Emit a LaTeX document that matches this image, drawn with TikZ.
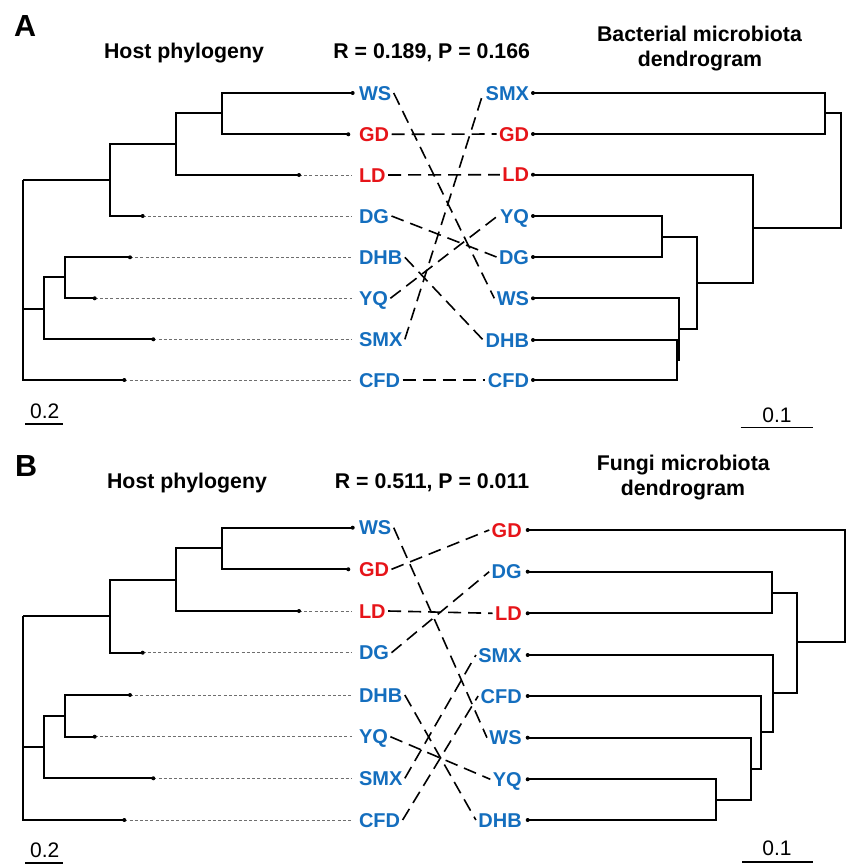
\documentclass[tikz,border=0pt]{standalone}
\usepackage{fontspec}
\setmainfont{Liberation Sans}
\definecolor{lblue}{RGB}{20,110,190}
\definecolor{lred}{RGB}{230,20,25}
\definecolor{leadgray}{RGB}{110,110,110}
\newcommand\mylabfont{\bfseries\fontsize{20}{24}\selectfont}
\newcommand\mytitfont{\bfseries\fontsize{21.3}{25}\selectfont}
\newcommand\mypanfont{\bfseries\fontsize{30.5}{34}\selectfont}
\newcommand\myscalefont{\fontsize{21}{24}\selectfont}
\begin{document}
\begin{tikzpicture}[x=1pt,y=-1pt,
  tree/.style={line width=1.8pt, black},
  leader/.style={line width=0.9pt, leadgray, dash pattern=on 3pt off 2.2pt},
  link/.style={line width=1.6pt, black, dash pattern=on 13pt off 7pt},
  hlab/.style={anchor=west, inner sep=0pt, outer sep=2.5pt, font=\mylabfont, text height=14.3pt, text depth=0pt},
  rlab/.style={hlab, anchor=east},
  blu/.style={text=lblue},
  rd/.style={text=lred},
  tipdot/.style={fill=black, circle, inner sep=0pt, minimum size=4pt},
  titl/.style={anchor=base, inner sep=0pt, font=\mytitfont},
  pan/.style={anchor=base west, inner sep=0pt, font=\mypanfont},
  scl/.style={anchor=center, inner sep=0pt, font=\myscalefont},
  sbar/.style={line width=1.6pt, black}]
\useasboundingbox (0,0) rectangle (854,867);

% ===================== Panel A =====================
\node[pan] (panA) at (14,37) {A};
\node[titl] (tA1) at (184,58.3) {Host phylogeny};
\node[titl] (tA2) at (431.7,58.3) {R = 0.189, P = 0.166};
\node[titl] (tA3) at (699.5,41.7) {Bacterial microbiota};
\node[titl] (tA4) at (700,66.7) {dendrogram};

% host tree A
\draw[tree] (23.3,180) -- (23.3,380) -- (124.3,380);
\draw[tree] (23.3,180) -- (110,180);
\draw[tree] (142.7,216) -- (110,216) -- (110,144.3) -- (176,144.3);
\draw[tree] (299,175) -- (176,175) -- (176,113.3) -- (222.3,113.3);
\draw[tree] (352.7,93) -- (222.3,93) -- (222.3,134.3) -- (348.3,134.3);
\draw[tree] (23.3,309) -- (43.7,309);
\draw[tree] (153.3,339.3) -- (43.7,339.3) -- (43.7,277.3) -- (65,277.3);
\draw[tree] (130,257.3) -- (65,257.3) -- (65,298.3) -- (94.7,298.3);
% leaders
\draw[leader] (299,175) -- (352,175);
\draw[leader] (142.7,216) -- (352,216);
\draw[leader] (130,257.3) -- (352,257.3);
\draw[leader] (94.7,298.3) -- (352,298.3);
\draw[leader] (153.3,339.3) -- (352,339.3);
\draw[leader] (124.3,380) -- (352,380);
% tip dots
\foreach \x/\y/\n in {352.7/93/a1,348.3/134.3/a2,299/175/a3,142.7/216/a4,130/257.3/a5,94.7/298.3/a6,153.3/339.3/a7,124.3/380/a8}
  \node[tipdot] (hAd\n) at (\x,\y) {};
% host labels A
\node[hlab,blu] (hAWS)  at (356.5,93)    {WS};
\node[hlab,rd]  (hAGD)  at (356.5,134.3) {GD};
\node[hlab,rd]  (hALD)  at (356.5,175)   {LD};
\node[hlab,blu] (hADG)  at (356.5,216)   {DG};
\node[hlab,blu] (hADHB) at (356.5,257.3) {DHB};
\node[hlab,blu] (hAYQ)  at (356.5,298.3) {YQ};
\node[hlab,blu] (hASMX) at (356.5,339.3) {SMX};
\node[hlab,blu] (hACFD) at (356.5,380)   {CFD};

% bacterial tree A
\draw[tree] (533,93) -- (825,93) -- (825,134) -- (533,134);
\draw[tree] (825,113.3) -- (841,113.3) -- (841,228.3) -- (752.7,228.3);
\draw[tree] (533,174.7) -- (752.7,174.7) -- (752.7,282.7) -- (697.3,282.7);
\draw[tree] (662.3,236.7) -- (697.3,236.7) -- (697.3,329.3) -- (679,329.3);
\draw[tree] (533,216) -- (662.3,216) -- (662.3,257) -- (533,257);
\draw[tree] (533,298.3) -- (679,298.3) -- (679,360) -- (676.7,360);
\draw[tree] (533,340) -- (676.7,340) -- (676.7,380) -- (533,380);
\foreach \y/\n in {93/1,134/2,174.7/3,216/4,257/5,298.3/6,340/7,380/8}
  \node[tipdot] (rAd\n) at (533,\y) {};
\node[rlab,blu] (rASMX) at (531.5,93)    {SMX};
\node[rlab,rd]  (rAGD)  at (531.5,134)   {GD};
\node[rlab,rd]  (rALD)  at (531.5,174.7) {LD};
\node[rlab,blu] (rAYQ)  at (531.5,216)   {YQ};
\node[rlab,blu] (rADG)  at (531.5,257)   {DG};
\node[rlab,blu] (rAWS)  at (531.5,298.3) {WS};
\node[rlab,blu] (rADHB) at (531.5,340)   {DHB};
\node[rlab,blu] (rACFD) at (531.5,380)   {CFD};

% links A
\draw[link] (hAWS.east)  -- (rAWS.west);
\draw[link] (hAGD.east)  -- (rAGD.west);
\draw[link] (hALD.east)  -- (rALD.west);
\draw[link] (hADG.east)  -- (rADG.west);
\draw[link] (hADHB.east) -- (rADHB.west);
\draw[link] (hAYQ.east)  -- (rAYQ.west);
\draw[link] (hASMX.east) -- (rASMX.west);
\draw[link] (hACFD.east) -- (rACFD.west);

% scale bars A
\node[scl] (sA1) at (44.7,411) {0.2};
\coordinate (sA1l) at (25,424);
\coordinate (sA1r) at (62.7,424);
\draw[sbar] (sA1l) -- (sA1r);
\node[scl] (sA2) at (777,414.8) {0.1};
\coordinate (sA2l) at (740.7,427.3);
\coordinate (sA2r) at (812.7,427.3);
\draw[sbar] (sA2l) -- (sA2r);

% ===================== Panel B =====================
\node[pan] (panB) at (15,476) {B};
\node[titl] (tB1) at (187,488.3) {Host phylogeny};
\node[titl] (tB2) at (432,488.3) {R = 0.511, P = 0.011};
\node[titl] (tB3) at (683.3,470) {Fungi microbiota};
\node[titl] (tB4) at (683,495) {dendrogram};

% host tree B
\draw[tree] (23.3,616) -- (23.3,820) -- (124.3,820);
\draw[tree] (23.3,616) -- (110,616);
\draw[tree] (142.7,652.7) -- (110,652.7) -- (110,580) -- (176,580);
\draw[tree] (299,611) -- (176,611) -- (176,548.3) -- (222.3,548.3);
\draw[tree] (352.7,527.7) -- (222.3,527.7) -- (222.3,569.3) -- (348.3,569.3);
\draw[tree] (23.3,746.7) -- (43.7,746.7);
\draw[tree] (153.3,778.3) -- (43.7,778.3) -- (43.7,715.7) -- (65,715.7);
\draw[tree] (130,695) -- (65,695) -- (65,736.7) -- (94.7,736.7);
\draw[leader] (299,611) -- (352,611);
\draw[leader] (142.7,652.7) -- (352,652.7);
\draw[leader] (130,695) -- (352,695);
\draw[leader] (94.7,736.7) -- (352,736.7);
\draw[leader] (153.3,778.3) -- (352,778.3);
\draw[leader] (124.3,820) -- (352,820);
\foreach \x/\y/\n in {352.7/527.7/b1,348.3/569.3/b2,299/611/b3,142.7/652.7/b4,130/695/b5,94.7/736.7/b6,153.3/778.3/b7,124.3/820/b8}
  \node[tipdot] (hBd\n) at (\x,\y) {};
\node[hlab,blu] (hBWS)  at (356.5,527.7) {WS};
\node[hlab,rd]  (hBGD)  at (356.5,569.3) {GD};
\node[hlab,rd]  (hBLD)  at (356.5,611)   {LD};
\node[hlab,blu] (hBDG)  at (356.5,652.7) {DG};
\node[hlab,blu] (hBDHB) at (356.5,695)   {DHB};
\node[hlab,blu] (hBYQ)  at (356.5,736.7) {YQ};
\node[hlab,blu] (hBSMX) at (356.5,778.3) {SMX};
\node[hlab,blu] (hBCFD) at (356.5,820)   {CFD};

% fungi tree B
\draw[tree] (527.7,530) -- (845,530) -- (845,642.3) -- (796.7,642.3);
\draw[tree] (772.3,592.7) -- (796.7,592.7) -- (796.7,693.3) -- (773.3,693.3);
\draw[tree] (527.7,571.7) -- (772.3,571.7) -- (772.3,613.3) -- (527.7,613.3);
\draw[tree] (527.7,655) -- (773.3,655) -- (773.3,732.3) -- (761,732.3);
\draw[tree] (527.7,696) -- (761,696) -- (761,769.3) -- (751,769.3);
\draw[tree] (527.7,737.7) -- (751,737.7) -- (751,800) -- (716,800);
\draw[tree] (527.7,779.3) -- (716,779.3) -- (716,820) -- (527.7,820);
\foreach \y/\n in {530/1,571.7/2,613.3/3,655/4,696/5,737.7/6,779.3/7,820/8}
  \node[tipdot] (rBd\n) at (527.7,\y) {};
\node[rlab,rd]  (rBGD)  at (524.2,530)   {GD};
\node[rlab,blu] (rBDG)  at (524.2,571.7) {DG};
\node[rlab,rd]  (rBLD)  at (524.2,613.3) {LD};
\node[rlab,blu] (rBSMX) at (524.2,655)   {SMX};
\node[rlab,blu] (rBCFD) at (524.2,696)   {CFD};
\node[rlab,blu] (rBWS)  at (524.2,737.7) {WS};
\node[rlab,blu] (rBYQ)  at (524.2,779.3) {YQ};
\node[rlab,blu] (rBDHB) at (524.2,820)   {DHB};

% links B
\draw[link] (hBWS.east)  -- (rBWS.west);
\draw[link] (hBGD.east)  -- (rBGD.west);
\draw[link] (hBLD.east)  -- (rBLD.west);
\draw[link] (hBDG.east)  -- (rBDG.west);
\draw[link] (hBDHB.east) -- (rBDHB.west);
\draw[link] (hBYQ.east)  -- (rBYQ.west);
\draw[link] (hBSMX.east) -- (rBSMX.west);
\draw[link] (hBCFD.east) -- (rBCFD.west);

% scale bars B
\node[scl] (sB1) at (44.7,850.7) {0.2};
\coordinate (sB1l) at (25,862.7);
\coordinate (sB1r) at (62.7,862.7);
\draw[sbar] (sB1l) -- (sB1r);
\node[scl] (sB2) at (777,848.3) {0.1};
\coordinate (sB2l) at (742.3,861.7);
\coordinate (sB2r) at (813.3,861.7);
\draw[sbar] (sB2l) -- (sB2r);
\end{tikzpicture}
\end{document}
